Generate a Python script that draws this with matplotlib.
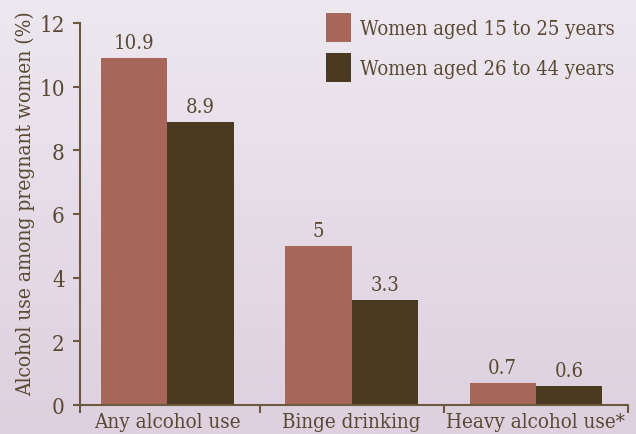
import matplotlib
matplotlib.use("Agg")
import matplotlib.pyplot as plt
import numpy as np
from matplotlib import font_manager as fm

categories = ["Any alcohol use", "Binge drinking", "Heavy alcohol use*"]
series_names = ["Women aged 15 to 25 years", "Women aged 26 to 44 years"]
young = [10.9, 5, 0.7]
older = [8.9, 3.3, 0.6]
y_ticks = [0, 2, 4, 6, 8, 10, 12]

names = {(f.name, f.stretch) for f in fm.fontManager.ttflist}
fam_names = {f.name for f in fm.fontManager.ttflist}
if ("DejaVu Serif", "condensed") in names or ("DejaVu Serif Condensed", "normal") in names:
    FONT = dict(family="DejaVu Serif", stretch="condensed")
elif "Liberation Sans Narrow" in fam_names:
    FONT = dict(family="Liberation Sans Narrow")
else:
    FONT = dict(family="DejaVu Sans", stretch="condensed")

TXT = "#5a4a35"
SPINE = "#6b5a40"
C1 = "#a8655a"
C2 = "#4a3a22"

W, H = 636, 435
fig = plt.figure(figsize=(W / 100, H / 100), dpi=100)
# gradient background
bg = fig.add_axes([0, 0, 1, 1], zorder=-10)
top = np.array([237, 232, 240]) / 255
bot = np.array([222, 208, 222]) / 255
t = np.linspace(0, 1, 256)[:, None]
grad = top[None, :] * (1 - t) + bot[None, :] * t
bg.imshow(grad[:, None, :], aspect="auto", extent=[0, 1, 0, 1])
bg.axis("off")

ax = fig.add_axes([80 / W, 29 / H, 548 / W, 382 / H])
ax.patch.set_alpha(0)
x = np.arange(len(categories))
w = 0.36
b1 = ax.bar(x - w / 2, young, w, color=C1, label=series_names[0])
b2 = ax.bar(x + w / 2, older, w, color=C2, label=series_names[1])
for bars, vals in ((b1, young), (b2, older)):
    for r, v in zip(bars, vals):
        ax.annotate(f"{v:g}", (r.get_x() + r.get_width() / 2, v), xytext=(0, 4),
                    textcoords="offset points", ha="center", va="bottom",
                    color=TXT, fontsize=14.5, **FONT)

ax.set_xlim(-0.475, 2.5)
ax.set_ylim(0, 12)
ax.set_yticks(y_ticks)
ax.set_yticklabels([str(v) for v in y_ticks], color=TXT, fontsize=16, **FONT)
ax.set_xticks([-0.475, 0.5, 1.5, 2.5])
ax.set_xticklabels([])
ax.set_xticks(x, minor=True)
ax.set_xticklabels(categories, minor=True, color=TXT, fontsize=14.8, **FONT)
ax.tick_params(axis="x", which="minor", length=0, pad=5)
ax.tick_params(axis="x", which="major", length=6, color=SPINE, width=1.5)
ax.tick_params(axis="y", length=5, color=SPINE, width=1.5, pad=6)
for s in ("top", "right"):
    ax.spines[s].set_visible(False)
for s in ("left", "bottom"):
    ax.spines[s].set_color(SPINE)
    ax.spines[s].set_linewidth(1.5)
ax.set_ylabel("Alcohol use among pregnant women (%)", color=TXT, fontsize=15, **FONT)
ax.yaxis.set_label_coords((35 - 80) / 548, 0.53)

leg = fig.legend(handles=[b1, b2], labels=series_names, loc="upper left",
                 bbox_to_anchor=(326 / W, 1 - 14 / H), frameon=False, borderpad=0,
                 borderaxespad=0,
                 prop=fm.FontProperties(size=14.5, **FONT), labelcolor=TXT,
                 handlelength=1.25, handleheight=1.85, handletextpad=0.45, labelspacing=0.55)

fig.savefig("out.png", dpi=100)
